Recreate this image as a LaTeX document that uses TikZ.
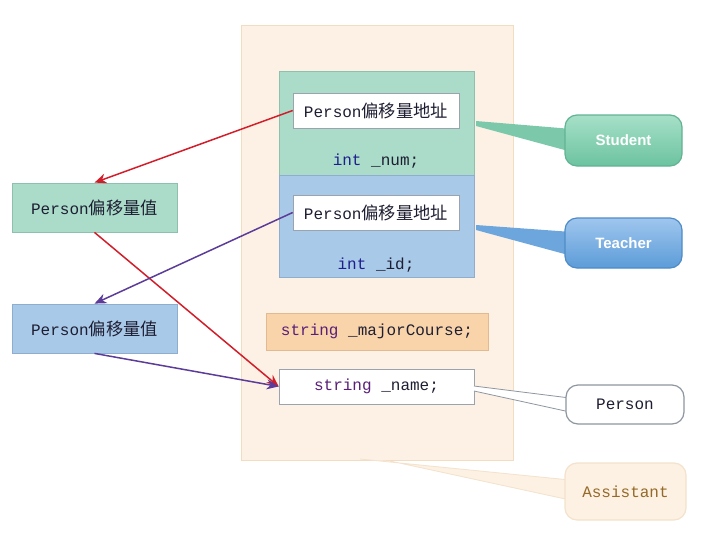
\documentclass[tikz,border=0pt]{standalone}
\usepackage{fontspec}
\setmonofont{Liberation Mono}
\newfontfamily\cjk[Scale=1.08]{Noto Sans CJK SC}
\newfontfamily\lsans{Liberation Sans}
\usetikzlibrary{arrows.meta}
\definecolor{outerfill}{HTML}{FDF1E6}
\definecolor{outerline}{HTML}{F2DCC2}
\definecolor{grnfill}{HTML}{AADCC9}
\definecolor{grnline}{HTML}{8FBFAE}
\definecolor{blufill}{HTML}{A9C9E9}
\definecolor{bluline}{HTML}{8FAECF}
\definecolor{orgfill}{HTML}{F9D4AA}
\definecolor{orgline}{HTML}{E2BA92}
\definecolor{boxline}{HTML}{9AA3AE}
\definecolor{kwint}{HTML}{1E1E8C}
\definecolor{kwstr}{HTML}{5A1E78}
\definecolor{txt}{HTML}{1E1E32}
\definecolor{redarr}{HTML}{D21E2A}
\definecolor{purarr}{HTML}{5B3C98}
\definecolor{stutop}{HTML}{A6E0C8}
\definecolor{stubot}{HTML}{6CC3A0}
\definecolor{stuline}{HTML}{62B393}
\definecolor{teatop}{HTML}{9FC6EE}
\definecolor{teabot}{HTML}{5C9CD8}
\definecolor{tealine}{HTML}{4E8CC6}
\definecolor{perline}{HTML}{8E96A0}
\definecolor{asfill}{HTML}{FDF1E4}
\definecolor{asline}{HTML}{F3E2CC}
\definecolor{astext}{HTML}{956A28}
\tikzset{
  memrect/.style={draw=#1, line width=0.8pt, inner sep=0pt},
  whitebox/.style={draw=boxline, fill=white, line width=0.6pt, minimum width=166pt, minimum height=35pt, inner sep=0pt, font=\ttfamily\fontsize{16}{18}\selectfont, text=txt},
  codetext/.style={font=\ttfamily\fontsize{16}{18}\selectfont, text=txt, inner sep=0pt},
  ptrbox/.style={draw=#1, line width=0.8pt, minimum width=165pt, minimum height=49pt, inner sep=0pt, font=\ttfamily\fontsize{16}{18}\selectfont, text=txt},
  callout/.style={rounded corners=12pt, line width=1.2pt, inner sep=0pt},
  arr/.style={line width=1.5pt, -{Stealth[length=12pt,width=10pt]}},
}
\begin{document}
\begin{tikzpicture}[x=1pt,y=-1pt]
\useasboundingbox (0,0) rectangle (705,539);
% outer Assistant block
\node[memrect=outerline, fill=outerfill, minimum width=272pt, minimum height=435pt] (outer) at (377,242.5) {};
% Student block
\node[memrect=grnline, fill=grnfill, minimum width=195pt, minimum height=104pt] (stu) at (376.5,123) {};
\node[whitebox] (in1) at (376,110.5) {Person{\cjk 偏移量地址}};
\node[codetext] (num) at (376,161) {\textcolor{kwint}{int} \_num;};
% Teacher block
\node[memrect=bluline, fill=blufill, minimum width=195pt, minimum height=102pt] (tea) at (376.5,226) {};
\node[whitebox] (in2) at (376,212.5) {Person{\cjk 偏移量地址}};
\node[codetext] (id) at (376,265) {\textcolor{kwint}{int} \_id;};
% majorCourse
\node[memrect=orgline, fill=orgfill, minimum width=222pt, minimum height=37pt, codetext] (major) at (377,331.5) {\textcolor{kwstr}{string} \_majorCourse;};
% name
\node[whitebox, minimum width=195pt] (name) at (376.5,386.5) {\textcolor{kwstr}{string} \_name;};
% left pointer boxes
\node[ptrbox=grnline, fill=grnfill] (gptr) at (94.5,207.5) {Person{\cjk 偏移量值}};
\node[ptrbox=bluline, fill=blufill] (bptr) at (94.5,328.5) {Person{\cjk 偏移量值}};
% arrows
\draw[arr, redarr] (in1.west) -- (gptr.north);
\draw[arr, redarr] (gptr.south) -- (name.west);
\draw[arr, purarr] (in2.west) -- (bptr.north);
\draw[arr, purarr] (bptr.south) -- (name.west);
% callout wedges
\fill[stubot!90!white] (476,121) -- (572,129) -- (572,152) -- (476,126) -- cycle;
\fill[teabot!90!white] (476,225) -- (572,232) -- (572,256) -- (476,230) -- cycle;
\filldraw[fill=white, draw=perline, line width=0.8pt] (474,386) -- (570,398) -- (570,412) -- (474,391);
\filldraw[fill=asfill, draw=asline, line width=0.8pt] (360,459) -- (570,480) -- (570,500) -- (390,461);
% callouts
\node[callout, draw=stuline, top color=stutop, bottom color=stubot, minimum width=117pt, minimum height=51pt, text=white, font=\lsans\bfseries\fontsize{15}{17}\selectfont] (scall) at (623.5,140.5) {Student};
\node[callout, draw=tealine, top color=teatop, bottom color=teabot, minimum width=117pt, minimum height=50pt, text=white, font=\lsans\bfseries\fontsize{15}{17}\selectfont] (tcall) at (623.5,243) {Teacher};
\node[callout, draw=perline, fill=white, minimum width=118pt, minimum height=39pt, codetext] (pcall) at (625,404.5) {Person};
\node[callout, draw=asline, fill=asfill, minimum width=121pt, minimum height=57pt, font=\ttfamily\fontsize{16}{18}\selectfont, text=astext] (acall) at (625.5,491.5) {Assistant};
\end{tikzpicture}
\end{document}
